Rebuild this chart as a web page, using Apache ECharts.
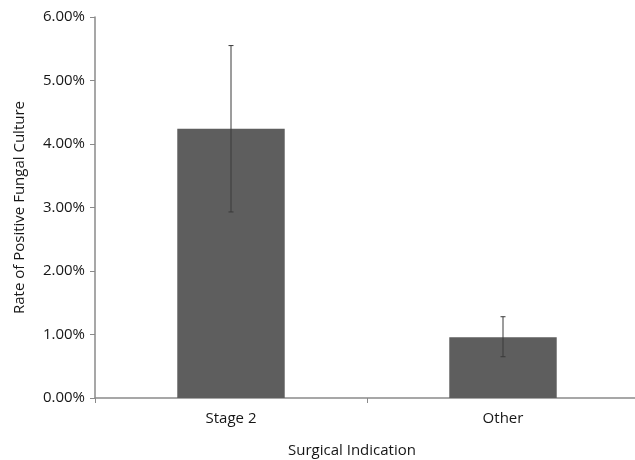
<!DOCTYPE html>
<html><head><meta charset="utf-8">
<script src="https://cdn.jsdelivr.net/npm/echarts@6/dist/echarts.min.js"></script>
<style>html,body{margin:0;padding:0;background:#fff}#c{width:635px;height:460px}</style>
</head><body><div id="c"></div>
<script>
const categories = ['Stage 2', 'Other'];
const rates = [4.24, 0.955];
const errLow = [2.93, 0.65];
const errHigh = [5.55, 1.28];
const yTicks = [0, 1, 2, 3, 4, 5, 6];

const font = 'Open Sans';
const chart = echarts.init(document.getElementById('c'), null, {renderer: 'canvas'});
chart.setOption({
  animation: false,
  backgroundColor: '#fff',
  grid: {left: 95, top: 17, width: 544, height: 381, containLabel: false, outerBoundsMode: 'none'},
  xAxis: {
    type: 'category',
    data: categories,
    name: 'Surgical Indication',
    nameLocation: 'middle',
    nameGap: 45,
    nameTextStyle: {fontFamily: font, fontSize: 15, color: '#161616', padding: [0, 30, 0, 0]},
    axisLine: {lineStyle: {color: '#8a8a8a', width: 1.5}},
    axisTick: {show: true, length: 5, lineStyle: {color: '#8a8a8a'}},
    axisLabel: {fontFamily: font, fontSize: 15, color: '#161616', margin: 13}
  },
  yAxis: {
    type: 'value',
    min: yTicks[0],
    max: yTicks[yTicks.length - 1],
    interval: 1,
    name: 'Rate of Positive Fungal Culture',
    nameLocation: 'middle',
    nameGap: 68,
    nameTextStyle: {fontFamily: font, fontSize: 15, color: '#161616'},
    axisLine: {show: true, lineStyle: {color: '#8a8a8a', width: 1.5}},
    axisTick: {show: true, length: 5, lineStyle: {color: '#8a8a8a'}},
    splitLine: {show: false},
    axisLabel: {fontFamily: font, fontSize: 15, color: '#161616', margin: 10,
      formatter: v => v.toFixed(2) + '%'}
  },
  series: [
    {
      type: 'bar',
      data: rates,
      barWidth: '39.5%',
      itemStyle: {color: '#5e5e5e'}
    },
    {
      type: 'custom',
      data: categories.map((c, i) => [i, errLow[i], errHigh[i]]),
      z: 10,
      renderItem: function (params, api) {
        const x = api.value(0);
        const lo = api.coord([x, api.value(1)]);
        const hi = api.coord([x, api.value(2)]);
        const cap = 2.5;
        const style = {stroke: '#3a3a3a', lineWidth: 1, fill: null};
        return {
          type: 'group',
          children: [
            {type: 'line', shape: {x1: lo[0], y1: lo[1], x2: hi[0], y2: hi[1]}, style},
            {type: 'line', shape: {x1: lo[0] - cap, y1: lo[1], x2: lo[0] + cap, y2: lo[1]}, style},
            {type: 'line', shape: {x1: hi[0] - cap, y1: hi[1], x2: hi[0] + cap, y2: hi[1]}, style}
          ]
        };
      }
    }
  ]
});
</script></body></html>
